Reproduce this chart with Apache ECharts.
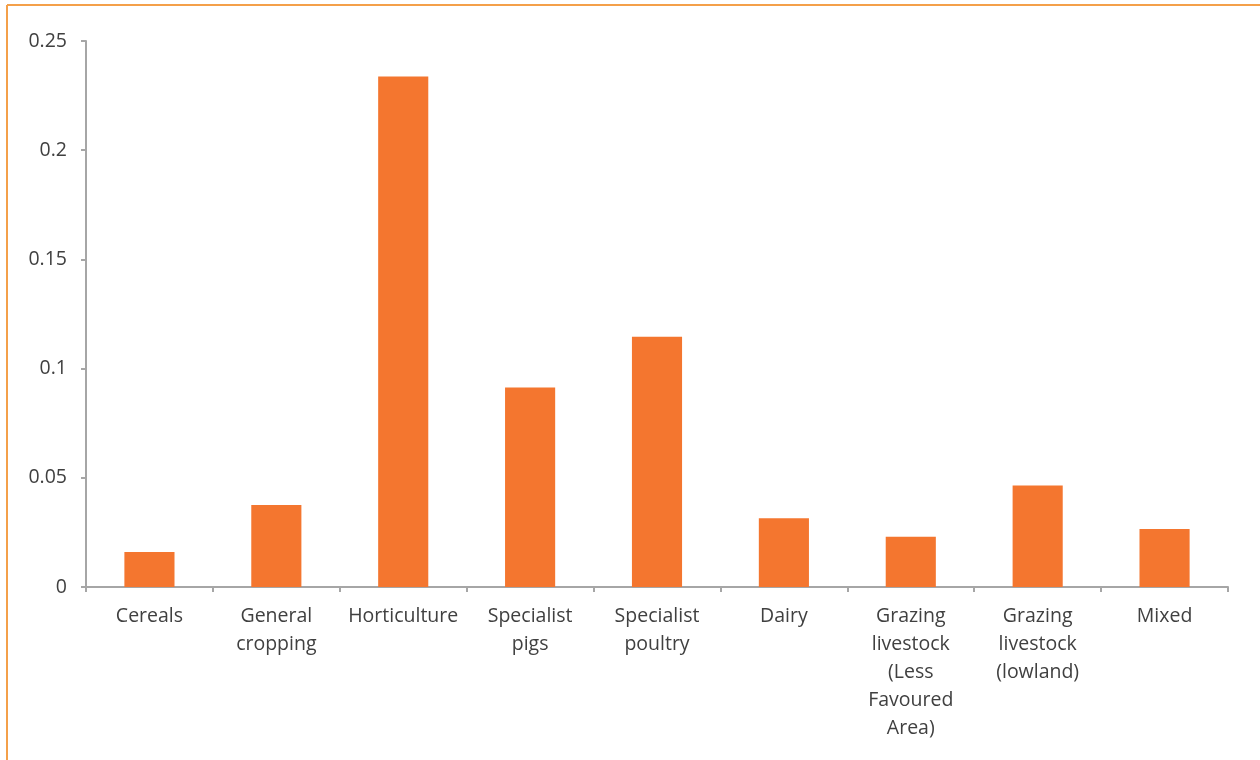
<!DOCTYPE html>
<html>
<head>
<meta charset="utf-8">
<script src="https://cdn.jsdelivr.net/npm/echarts@6/dist/echarts.min.js"></script>
<style>
  html, body { margin: 0; padding: 0; background: #ffffff; }
  #chart { width: 1260px; height: 760px; }
</style>
</head>
<body>
<div id="chart"></div>
<script>
// Farm types shown along the category axis
const farmTypes = [
  'Cereals',
  'General\ncropping',
  'Horticulture',
  'Specialist\npigs',
  'Specialist\npoultry',
  'Dairy',
  'Grazing\nlivestock\n(Less\nFavoured\nArea)',
  'Grazing\nlivestock\n(lowland)',
  'Mixed'
];

// Value for each farm type
const values = [0.016, 0.0375, 0.2337, 0.0914, 0.1146, 0.0315, 0.023, 0.0465, 0.0265];

// Value axis range and step
const yMin = 0;
const yMax = 0.25;
const yStep = 0.05;

const textColor = '#404040';
const axisColor = '#a6a6a6';
const barColor = '#f4762f';
const frameColor = '#f4a04a';
const fontFamily = '"Open Sans", "Liberation Sans", sans-serif';

const chart = echarts.init(document.getElementById('chart'), null, { renderer: 'canvas' });

chart.setOption({
  animation: false,
  backgroundColor: '#ffffff',
  grid: { left: 86, right: 32, top: 41, bottom: 173, containLabel: false },
  graphic: [
    { type: 'line', shape: { x1: 7, y1: 5, x2: 1260, y2: 5 }, style: { stroke: frameColor, lineWidth: 2 } },
    { type: 'line', shape: { x1: 7, y1: 5, x2: 7, y2: 760 }, style: { stroke: frameColor, lineWidth: 2 } }
  ],
  xAxis: {
    type: 'category',
    data: farmTypes,
    boundaryGap: true,
    axisLine: { show: true, lineStyle: { color: axisColor, width: 2 } },
    axisTick: { show: true, length: 5, lineStyle: { color: axisColor, width: 2 } },
    axisLabel: {
      interval: 0,
      margin: 15,
      color: textColor,
      fontFamily: fontFamily,
      fontSize: 19.5,
      lineHeight: 28,
      align: 'center'
    },
    splitLine: { show: false }
  },
  yAxis: {
    type: 'value',
    min: yMin,
    max: yMax,
    interval: yStep,
    axisLine: { show: true, lineStyle: { color: axisColor, width: 2 } },
    axisTick: { show: true, length: 5, lineStyle: { color: axisColor, width: 2 } },
    axisLabel: {
      margin: 19,
      color: textColor,
      fontFamily: fontFamily,
      fontSize: 19.5
    },
    splitLine: { show: false }
  },
  series: [{
    type: 'bar',
    data: values,
    barWidth: '39.5%',
    itemStyle: { color: barColor }
  }]
});
</script>
</body>
</html>
